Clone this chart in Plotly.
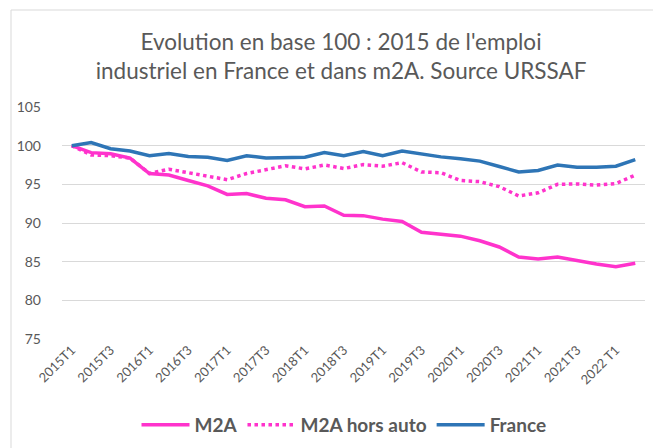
import plotly.graph_objects as go

quarters = [f"{y}T{q}" for y in range(2015, 2023) for q in range(1, 5)][:30]

m2a = [100.0, 99.1, 98.95, 98.4, 96.4, 96.2, 95.5, 94.8, 93.7, 93.8,
       93.2, 93.0, 92.1, 92.2, 91.0, 90.95, 90.5, 90.2, 88.8, 88.5,
       88.3, 87.7, 86.9, 85.6, 85.35, 85.6, 85.1, 84.7, 84.35, 84.8]

m2a_hors_auto = [100.0, 98.8, 98.7, 98.4, 96.4, 96.95, 96.5, 96.0, 95.6, 96.4,
                 96.85, 97.4, 97.0, 97.5, 97.05, 97.55, 97.35, 97.8, 96.6, 96.5,
                 95.5, 95.35, 94.7, 93.5, 93.9, 95.0, 95.05, 94.9, 95.1, 96.2]

france = [100.0, 100.4, 99.6, 99.3, 98.7, 99.0, 98.6, 98.5, 98.1, 98.7,
          98.4, 98.5, 98.5, 99.1, 98.7, 99.25, 98.7, 99.3, 98.9, 98.55,
          98.3, 98.0, 97.3, 96.6, 96.8, 97.5, 97.2, 97.2, 97.35, 98.2]

tick_vals = quarters[::2]
tick_text = ["2015T1", "2015T3", "2016T1", "2016T3", "2017T1", "2017T3", "2018T1",
             "2018T3", "2019T1", "2019T3", "2020T1", "2020T3", "2021T1", "2021T3", "2022 T1"]

PINK = "#FF33CC"
BLUE = "#2E75B6"
GREY = "#595959"
FONT = "Lato"

fig = go.Figure()
fig.add_trace(go.Scatter(x=quarters, y=m2a, name="M2A", mode="lines",
                         line=dict(color=PINK, width=3.5)))
fig.add_trace(go.Scatter(x=quarters, y=m2a_hors_auto, name="M2A hors auto", mode="lines",
                         line=dict(color=PINK, width=3.5, dash="dot")))
fig.add_trace(go.Scatter(x=quarters, y=france, name="France", mode="lines",
                         line=dict(color=BLUE, width=3.5)))

# page body has an 8px margin: figure is 653x440 and placed at (8, 8)
fig.update_layout(
    width=653, height=440,
    margin=dict(l=54, r=16, t=99, b=109),
    paper_bgcolor="white", plot_bgcolor="white",
    font=dict(family=FONT, color=GREY, size=12),
    title=dict(text="Evolution en base 100 : 2015 de l'emploi<br>industriel en France et dans m2A. Source URSSAF",
               x=(341 - 8) / 653, xanchor="center", y=1 - (50 - 8) / 440, yanchor="middle",
               font=dict(family=FONT, size=22.5, color=GREY)),
    showlegend=True,
    legend=dict(orientation="h", x=(344 - 8) / 653, xanchor="center", xref="container",
                y=1 - (425 - 8) / 440, yref="container", yanchor="middle",
                font=dict(family=FONT, size=19, color=GREY, weight="bold"),
                itemwidth=48, tracegroupgap=0),
    shapes=[dict(type="rect", xref="paper", yref="paper",
                 x0=(11 - 62) / 583, x1=(670 - 62) / 583,
                 y0=(339 - 470) / 232, y1=(339 - 10) / 232,
                 line=dict(color="#D9D9D9", width=1), fillcolor="rgba(0,0,0,0)", layer="below")],
)

fig.update_xaxes(type="category", tickmode="array", tickvals=tick_vals, ticktext=tick_text,
                 tickangle=-45, showgrid=False, showline=False, ticks="", automargin=False,
                 tickfont=dict(family=FONT, size=13, color=GREY), range=[-0.5, 29.5])
fig.update_yaxes(range=[75, 105], dtick=5, tick0=75, showgrid=True, gridcolor="#D9D9D9", gridwidth=1,
                 zeroline=False, showline=False, ticks="", ticklabelstandoff=20, automargin=False,
                 tickfont=dict(family=FONT, size=14, color=GREY))

fig.write_html("out.html")
